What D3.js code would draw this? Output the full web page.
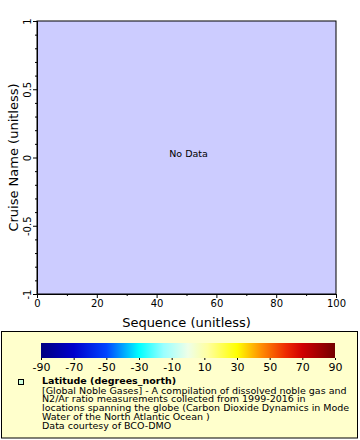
<!DOCTYPE html>
<html><head><meta charset="utf-8">
<script src="https://cdn.jsdelivr.net/npm/d3@7"></script>
<style>body{margin:0;background:#fff}svg{display:block;font-family:"DejaVu Sans",sans-serif}</style>
</head><body><svg id="c" width="360" height="440"></svg>
<script>
const xDomain = [0, 100];
const yDomain = [-1, 1];
const xTicks = [0, 20, 40, 60, 80, 100];
const xMinor = [10, 30, 50, 70, 90];
const yTicks = [-1, -0.5, 0, 0.5, 1];
const yMinor = [-0.9,-0.8,-0.7,-0.6,-0.4,-0.3,-0.2,-0.1,0.1,0.2,0.3,0.4,0.6,0.7,0.8,0.9];
const cbTicks = [-90, -70, -50, -30, -10, 10, 30, 50, 70, 90];
const cbStopVals = [-90, -70, -50, -30, -15, 0, 12, 30, 45, 60, 70, 90];
const cbStopCols = ["#000080", "#0000cc", "#0044ff", "#00ffff", "#99ffff", "#eeffe8", "#ffffa0", "#ffff00", "#ff8c00", "#ee2a00", "#d00000", "#740000"];
const xTitle = "Sequence (unitless)";
const yTitle = "Cruise Name (unitless)";
const legendTitle = "Latitude (degrees_north)";
const legendLines = ["[Global Noble Gases] - A compilation of dissolved noble gas and",
  "N2/Ar ratio measurements collected from 1999-2016 in",
  "locations spanning the globe (Carbon Dioxide Dynamics in Mode",
  "Water of the North Atlantic Ocean )",
  "Data courtesy of BCO-DMO"];

const svg = d3.select("#c");
const L = 37, R = 336, T = 21, B = 294;
const x = d3.scaleLinear().domain(xDomain).range([L, R]);
const y = d3.scaleLinear().domain(yDomain).range([B, T]);

svg.append("rect").attr("x", L).attr("y", T).attr("width", R - L).attr("height", B - T)
  .attr("fill", "#ccccff").attr("stroke", "#000").attr("stroke-width", 1);

const gx = svg.append("g").attr("transform", `translate(0,${B})`)
  .call(d3.axisBottom(x).tickValues(xTicks).tickSize(4).tickPadding(2).tickFormat(d => String(d)));
svg.append("g").attr("transform", `translate(0,${B})`)
  .call(d3.axisBottom(x).tickValues(xMinor).tickSize(2).tickFormat(""));
const gy = svg.append("g").attr("transform", `translate(${L},0)`)
  .call(d3.axisLeft(y).tickValues(yTicks).tickSize(4).tickPadding(2).tickFormat(d => String(d)));
svg.append("g").attr("transform", `translate(${L},0)`)
  .call(d3.axisLeft(y).tickValues(yMinor).tickSize(2).tickFormat(""));
svg.selectAll(".domain").attr("stroke", "#000");
svg.selectAll(".tick line").attr("stroke", "#000");
gx.selectAll("text").attr("font-size", 10).attr("fill", "#000").attr("font-family", "DejaVu Sans");
gy.selectAll("text").attr("font-size", 10).attr("fill", "#000").attr("font-family", "DejaVu Sans")
  .each(function(d){
    d3.select(this).attr("x", null).attr("text-anchor", "middle")
     .attr("transform", "translate(-10,0) rotate(-90)").attr("y", 0).attr("dy", "0.35em");
  });

svg.append("text").attr("x", (L + R) / 2).attr("y", 327).attr("text-anchor", "middle")
  .attr("font-size", 13).text(xTitle);
svg.append("text").attr("transform", `translate(18,${(T + B) / 2}) rotate(-90)`).attr("text-anchor", "middle")
  .attr("font-size", 13).text(yTitle);
svg.append("text").attr("x", (L + R) / 2 + 2).attr("y", 157).attr("text-anchor", "middle")
  .attr("font-size", 9.5).text("No Data");

// legend
svg.append("rect").attr("x", 1.5).attr("y", 331.5).attr("width", 356).attr("height", 106.5)
  .attr("fill", "#ffffcc").attr("stroke", "#000").attr("stroke-width", 1);
const cb = d3.scaleLinear().domain([-90, 90]).range([41, 335]);
const grad = svg.append("defs").append("linearGradient").attr("id", "g");
cbStopVals.forEach((v, i) => grad.append("stop").attr("offset", (v + 90) / 180).attr("stop-color", cbStopCols[i]));
svg.append("rect").attr("x", 41).attr("y", 343).attr("width", 294).attr("height", 15).attr("fill", "url(#g)");
const gcb = svg.append("g").attr("transform", "translate(0,358)")
  .call(d3.axisBottom(cb).tickValues(cbTicks).tickSize(2).tickPadding(3).tickFormat(d => String(d)));
gcb.select(".domain").remove();
gcb.selectAll("line").attr("stroke", "#000");
gcb.selectAll("text").attr("font-size", 11).attr("fill", "#000").attr("font-family", "DejaVu Sans");

svg.append("rect").attr("x", 18.5).attr("y", 379.5).attr("width", 5).attr("height", 5)
  .attr("fill", "#ccffdd").attr("stroke", "#000").attr("stroke-width", 1);
svg.append("text").attr("x", 42).attr("y", 384).attr("font-size", 9.5).attr("font-weight", "bold").text(legendTitle);
legendLines.forEach((s, i) => svg.append("text").attr("x", 42).attr("y", 393.5 + i * 8.8)
  .attr("font-size", 9.5).text(s));
</script></body></html>
